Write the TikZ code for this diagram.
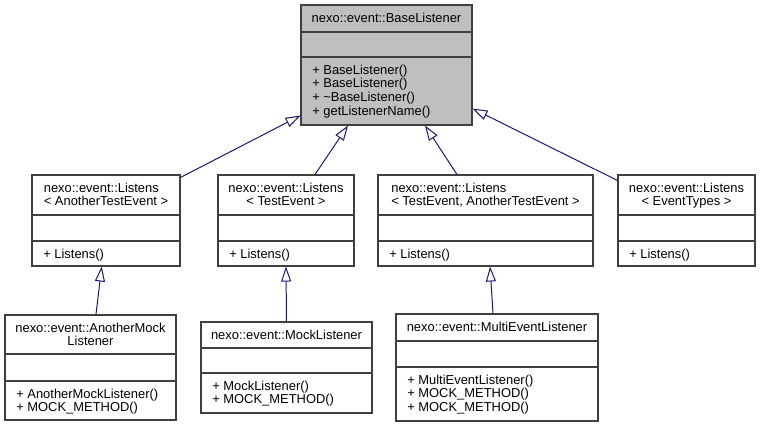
\documentclass[tikz,border=0pt]{standalone}
\usepackage{fontspec}
\setmainfont{Liberation Sans}
\usetikzlibrary{arrows.meta}
\definecolor{edgeblue}{HTML}{191970}
\definecolor{boxline}{HTML}{404040}
\definecolor{basefill}{HTML}{BFBFBF}

\begin{document}
\begin{tikzpicture}[
    x=0.75pt, y=-0.75pt,
    font=\fontsize{9.7}{10.2}\selectfont,
    cls/.style={draw=boxline, line width=0.8pt, fill=white, inner sep=0pt},
    sep/.style={draw=boxline, line width=0.8pt},
    title/.style={anchor=north, inner sep=0pt, align=center},
    ops/.style={anchor=north west, inner sep=0pt, align=left},
    inherit/.style={draw=edgeblue, line width=0.75pt, -{Triangle[open, length=11.25pt, width=7.5pt]}}
  ]
    \useasboundingbox (0,0) rectangle (760,427);

    % base class
    \node[cls, fill=basefill, minimum width=128.25pt, minimum height=90pt] (base) at (386.5,65) {};
    \draw[sep] (base.west |- 0,32) -- (base.east |- 0,32);
    \draw[sep] (base.west |- 0,57) -- (base.east |- 0,57);
    \node[title] (baseT) at (386.5,12.6) {nexo::event::BaseListener};
    \node[ops] (baseM) at (312,64.6) {+ BaseListener()\\+ BaseListener()\\+ \textasciitilde BaseListener()\\+ getListenerName()};

    % Listens templates
    \node[cls, minimum width=111pt, minimum height=68.25pt] (lisA) at (106,220.5) {};
    \draw[sep] (lisA.west |- 0,215) -- (lisA.east |- 0,215);
    \draw[sep] (lisA.west |- 0,241) -- (lisA.east |- 0,241);
    \node[title, align=left] (lisAT) at (106,182.6) {nexo::event::Listens\\< AnotherTestEvent >};
    \node[ops] (lisAM) at (43,248.6) {+ Listens()};

    \node[cls, minimum width=102pt, minimum height=68.25pt] (lisT) at (286,220.5) {};
    \draw[sep] (lisT.west |- 0,215) -- (lisT.east |- 0,215);
    \draw[sep] (lisT.west |- 0,241) -- (lisT.east |- 0,241);
    \node[title] (lisTT) at (286,182.6) {nexo::event::Listens\\< TestEvent >};
    \node[ops] (lisTM) at (229,248.6) {+ Listens()};

    \node[cls, minimum width=161.25pt, minimum height=68.25pt] (lisTA) at (485.5,220.5) {};
    \draw[sep] (lisTA.west |- 0,215) -- (lisTA.east |- 0,215);
    \draw[sep] (lisTA.west |- 0,241) -- (lisTA.east |- 0,241);
    \node[title, align=left] (lisTAT) at (485.5,182.6) {nexo::event::Listens\\< TestEvent, AnotherTestEvent >};
    \node[ops] (lisTAM) at (389,248.6) {+ Listens()};

    \node[cls, minimum width=102.75pt, minimum height=68.25pt] (lisE) at (686.5,220.5) {};
    \draw[sep] (lisE.west |- 0,215) -- (lisE.east |- 0,215);
    \draw[sep] (lisE.west |- 0,241) -- (lisE.east |- 0,241);
    \node[title] (lisET) at (686.5,182.6) {nexo::event::Listens\\< EventTypes >};
    \node[ops] (lisEM) at (629,248.6) {+ Listens()};

    % concrete listeners
    \node[cls, minimum width=128.25pt, minimum height=78.75pt] (anotherMock) at (90.5,367.5) {};
    \draw[sep] (anotherMock.west |- 0,354) -- (anotherMock.east |- 0,354);
    \draw[sep] (anotherMock.west |- 0,381) -- (anotherMock.east |- 0,381);
    \node[title] (anotherMockT) at (90.5,322.6) {nexo::event::AnotherMock\\Listener};
    \node[ops] (anotherMockM) at (16,388.6) {+ AnotherMockListener()\\+ MOCK\_METHOD()};

    \node[cls, minimum width=128.25pt, minimum height=68.25pt] (mock) at (286.5,367.5) {};
    \draw[sep] (mock.west |- 0,348) -- (mock.east |- 0,348);
    \draw[sep] (mock.west |- 0,373) -- (mock.east |- 0,373);
    \node[title] (mockT) at (286.5,329.6) {nexo::event::MockListener};
    \node[ops] (mockM) at (212,380.6) {+ MockListener()\\+ MOCK\_METHOD()};

    \node[cls, minimum width=151.5pt, minimum height=80.25pt] (multi) at (497,367.5) {};
    \draw[sep] (multi.west |- 0,341) -- (multi.east |- 0,341);
    \draw[sep] (multi.west |- 0,367) -- (multi.east |- 0,367);
    \node[title] (multiT) at (497,321.6) {nexo::event::MultiEventListener};
    \node[ops] (multiM) at (407,374.6) {+ MultiEventListener()\\+ MOCK\_METHOD()\\+ MOCK\_METHOD()};

    % inheritance
    \draw[inherit] ([yshift=-2.25pt]lisA.north east) -- ([yshift=7.5pt]base.south west);
    \draw[inherit] ([xshift=21.75pt]lisT.north) -- ([xshift=-28.9pt]base.south);
    \draw[inherit] ([xshift=-21.4pt]lisTA.north) -- ([xshift=28.9pt]base.south);
    \draw[inherit] ([yshift=-4.5pt]lisE.north west) -- ([yshift=12.75pt]base.south east);
    \draw[inherit] ([xshift=4.1pt]anotherMock.north) -- ([xshift=-3.2pt]lisA.south);
    \draw[inherit] (mock.north) -- (lisT.south);
    \draw[inherit] ([xshift=-3pt]multi.north) -- ([xshift=3.4pt]lisTA.south);
  \end{tikzpicture}
\end{document}
